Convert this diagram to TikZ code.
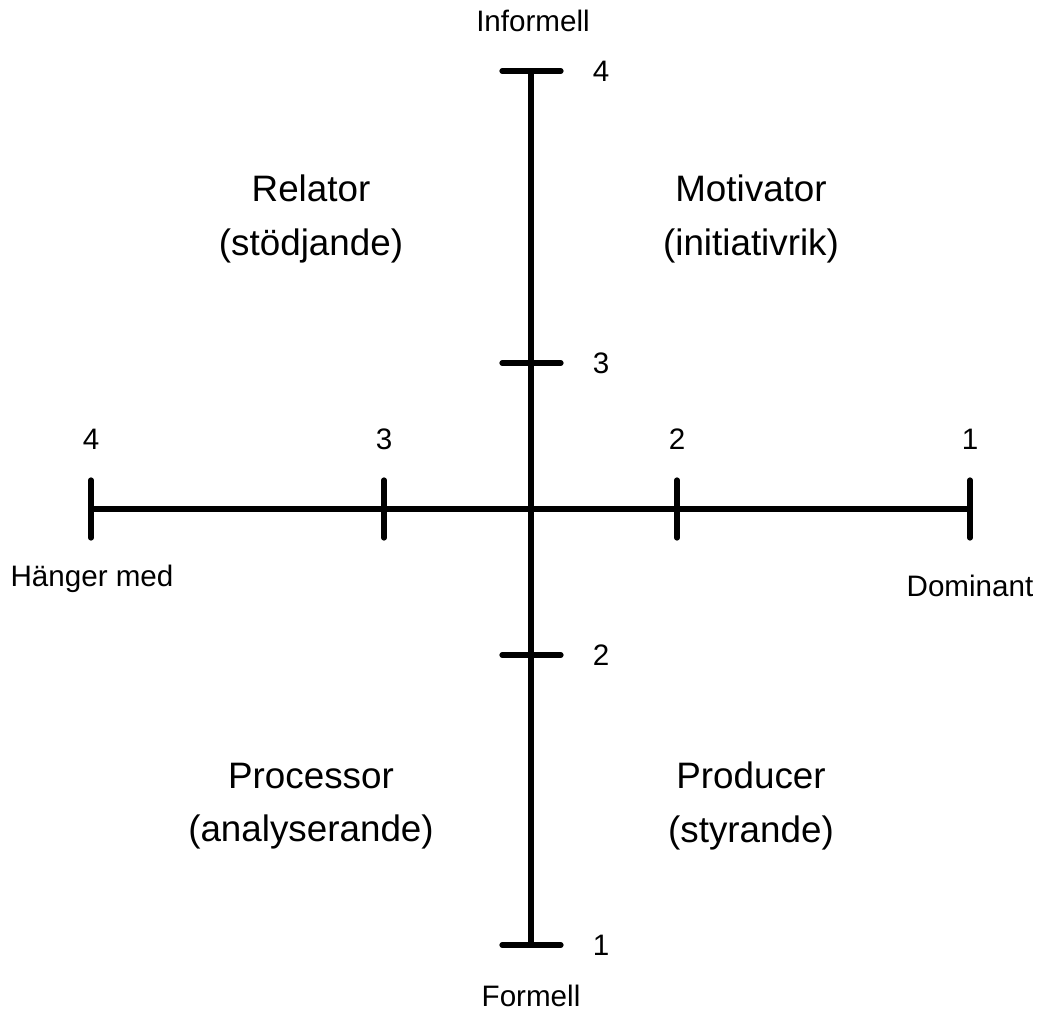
\documentclass[tikz,border=0pt]{standalone}
\usepackage{fontspec}
\setmainfont{Liberation Sans}
\begin{document}
\begin{tikzpicture}[x=0.75pt,y=-0.75pt,
  axis/.style={line width=3.9pt,line cap=round},
  small/.style={font=\fontsize{22.2}{26}\selectfont,inner sep=0pt,anchor=center},
  big/.style={font=\fontsize{27.6}{39.8}\selectfont,inner sep=0pt,align=center,anchor=center}]
\useasboundingbox (0,0) rectangle (1040,1012);
\coordinate (vt) at (531,71);
\coordinate (vb) at (531,945);
\coordinate (hl) at (91,509);
\coordinate (hr) at (970,509);
\draw[axis] (vt) -- (vb);
\draw[axis] (hl) -- (hr);
% vertical ticks
\foreach \y/\n in {71/a,363/b,655/c,945/d}{
  \coordinate (vtl\n) at (502,\y);
  \coordinate (vtr\n) at (561,\y);
  \draw[axis] (vtl\n) -- (vtr\n);
}
% horizontal ticks
\foreach \x/\n in {91/a,384/b,677/c,970/d}{
  \coordinate (htt\n) at (\x,480);
  \coordinate (htb\n) at (\x,538);
  \draw[axis] (htt\n) -- (htb\n);
}
% labels
\node[small] (inf) at (533,21) {Informell};
\node[small] (form) at (531,996) {Formell};
\node[small] (v4) at (601,71) {4};
\node[small] (v3) at (601,363) {3};
\node[small] (v2) at (601,655) {2};
\node[small] (v1) at (601,945) {1};
\node[small] (h4) at (91,439) {4};
\node[small] (h3) at (384,439) {3};
\node[small] (h2) at (677,439) {2};
\node[small] (h1) at (970,439) {1};
\node[small] (hm) at (92,579) {Hänger med};
\node[small] (dom) at (970,586) {Dominant};
\node[big] (rel) at (311,219) {Relator\\(stödjande)};
\node[big] (mot) at (751,219) {Motivator\\(initiativrik)};
\node[big] (proc) at (311,806) {Processor\\(analyserande)};
\node[big] (prod) at (751,806) {Producer\\(styrande)};
\end{tikzpicture}
\end{document}
